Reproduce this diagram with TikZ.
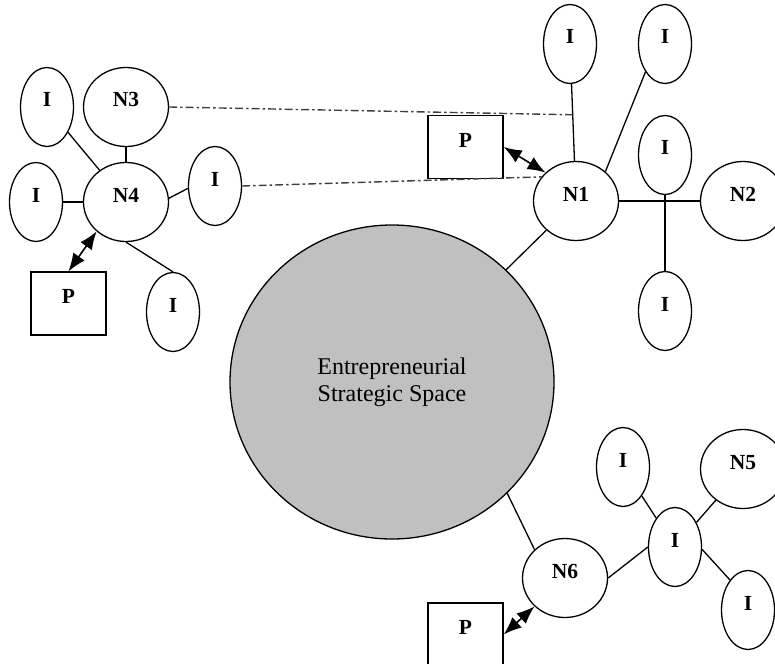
\documentclass[tikz,border=0pt]{standalone}
\usepackage{fontspec}
\setmainfont{Liberation Serif}
\usetikzlibrary{arrows.meta,shapes.geometric}
\begin{document}
\begin{tikzpicture}[x=1pt,y=-1pt,
  every node/.style={font=\fontsize{21.5}{26}\selectfont\bfseries},
  inode/.style={ellipse, draw, line width=1.3pt, minimum width=53pt, minimum height=79pt,
    inner sep=0pt, text height=0pt, text depth=0pt},
  nnode/.style={inode, minimum width=85pt},
  pbox/.style={rectangle, draw, line width=1.3pt, minimum width=75pt, minimum height=63pt,
    inner sep=0pt, text height=0pt, text depth=0pt},
  spacenode/.style={ellipse, draw, line width=1.3pt, fill=spacegray, minimum width=324pt,
    minimum height=314pt, inner sep=0pt, align=center, font=\fontsize{24}{27}\selectfont},
  link/.style={line width=1.3pt},
  dashlink/.style={line width=1.4pt, black!75, dash pattern=on 8pt off 3pt on 2.5pt off 3pt},
  dual/.style={line width=1.6pt, {Latex[length=18pt,width=14pt]}-{Latex[length=18pt,width=14pt]}}
]
\definecolor{spacegray}{RGB}{192,192,192}
\useasboundingbox (0,0) rectangle (775,663);
\clip (0,0) rectangle (775,663);

% central space
\node[spacenode] (C) at (392,382) {Entrepreneurial\\Strategic Space};

% left cluster
\node[inode] (I1) at (47,107) {I};
\node[nnode] (N3) at (126,107) {N3};
\node[nnode] (N4) at (126,202) {N4};
\node[inode] (I2) at (36,202) {I};
\node[inode] (I3) at (215,186) {I};
\node[inode] (I4) at (173,312) {I};
\node[pbox] (P1) at (68.5,303.5) {P};

% top right cluster
\node[inode] (I5) at (570,44) {I};
\node[inode] (I6) at (665,44) {I};
\node[pbox] (P2) at (465.5,147) {P};
\node[nnode] (N1) at (576,201) {N1};
\node[inode] (I7) at (665,155) {I};
\node[nnode] (N2) at (743,201) {N2};
\node[inode] (I8) at (665,311) {I};

% bottom right cluster
\node[inode] (I9) at (623,467) {I};
\node[nnode] (N5) at (743,469) {N5};
\node[inode] (I10) at (675,547) {I};
\node[inode] (I11) at (748,610) {I};
\node[nnode] (N6) at (565,578) {N6};
\node[pbox] (P3) at (465.5,634.5) {P};

% left links
\draw[link] (I1) -- (N4);
\draw[link] (N3) -- (N4);
\draw[link] (I2) -- (N4);
\draw[link] (N4.5) -- (I3.185);
\draw[link] (N4.south) -- (I4.north);
\draw[dual] (P1.north) -- (N4.225);

% top right links
\draw[link] (I5) -- coordinate[pos=0.4] (j1) (N1);
\draw[link] (I6.235) -- (N1.45);
\draw[link] (N1) -- (N2);
\draw[link] (I7.south) -- (I8.north);
\draw[link] (N1) -- (C);
\draw[dual] (P2.east) -- (N1.137);

% dash-dot links
\draw[dashlink] (N3.east) -- (j1);
\draw[dashlink] (I3.east) -- (N1.145);

% bottom right links
\draw[link] (C.316) -- (N6.137);
\draw[link] (N6.east) -- (I10.west);
\draw[link] (I9) -- (I10);
\draw[link] (N5) -- (I10);
\draw[link] (I10.-5) -- (I11.121);
\draw[dual] (P3.east) -- (N6.223);
\end{tikzpicture}
\end{document}
